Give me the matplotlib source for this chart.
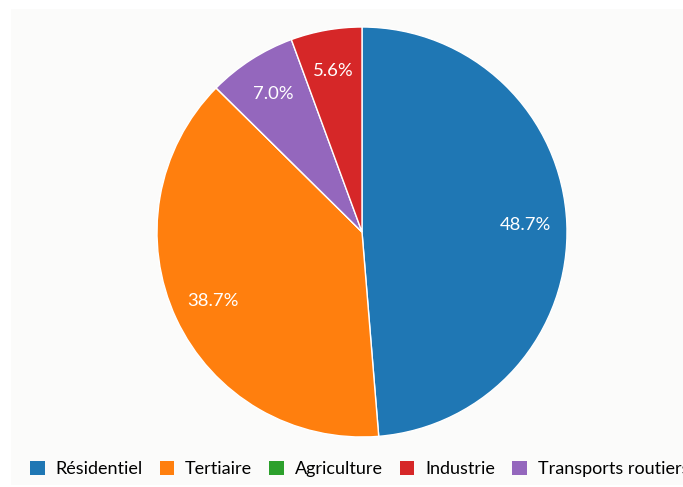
import matplotlib.pyplot as plt
from matplotlib.patches import Patch, Rectangle

plt.rcParams["font.family"] = ["Lato", "DejaVu Sans"]

# Legend order
categories = ["Résidentiel", "Tertiaire", "Agriculture", "Industrie", "Transports routiers"]
shares = [48.7, 38.7, 0.0, 5.6, 7.0]
colors = ["#1f77b4", "#ff7f0e", "#2ca02c", "#d62728", "#9467bd"]
# Order of the wedges, clockwise from 12 o'clock
pie_order = ["Résidentiel", "Tertiaire", "Agriculture", "Transports routiers", "Industrie"]

W, H = 683, 487
fig = plt.figure(figsize=(W / 100, H / 100), dpi=100)
fig.patch.set_facecolor("white")

# light panel behind the chart
fig.patches.append(Rectangle((11 / W, 2 / H), 1, 1 - 11 / H, transform=fig.transFigure,
                             facecolor="#fbfbfa", edgecolor="none", zorder=-10))

cx, cy, r = 362, 232, 205
ax = fig.add_axes([(cx - r) / W, 1 - (cy + r) / H, 2 * r / W, 2 * r / H])
ax.set_zorder(2)

idx = [categories.index(c) for c in pie_order]
vals = [shares[i] for i in idx]
cols = [colors[i] for i in idx]

ax.pie(
    vals,
    colors=cols,
    startangle=90,
    counterclock=False,
    radius=1,
    autopct=lambda p: f"{p:.1f}%" if p > 0.5 else "",
    pctdistance=0.8,
    wedgeprops={"edgecolor": "white", "linewidth": 1},
    textprops={"color": "white", "fontsize": 13.3},
)
ax.set_xlim(-1, 1)
ax.set_ylim(-1, 1)
ax.axis("off")

handles = [Patch(facecolor=c, edgecolor="none") for c in colors]
fig.legend(
    handles,
    categories,
    loc="center left",
    bbox_to_anchor=(14 / W, 1 - 469 / H),
    ncol=5,
    frameon=False,
    fontsize=13,
    handlelength=0.8,
    handleheight=0.8,
    handletextpad=0.6,
    columnspacing=0.95,
)

fig.savefig("out.png", dpi=100)
